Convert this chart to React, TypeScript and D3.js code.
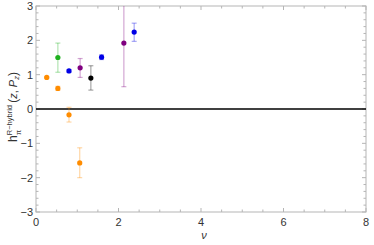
import React from "react";
import * as d3 from "d3";

const nuValues = [0.26, 0.53, 0.53, 0.8, 0.8, 1.07, 1.06, 1.33, 1.59, 2.13, 2.38];
const hValues = [0.92, 0.6, 1.5, -0.17, 1.11, 1.2, -1.57, 0.9, 1.51, 1.92, 2.24];
const hErrLow = [0.9, 0.54, 1.07, -0.38, 1.07, 0.92, -2.0, 0.55, 1.44, 0.65, 1.97];
const hErrHigh = [0.94, 0.66, 1.92, 0.05, 1.15, 1.47, -1.13, 1.26, 1.58, 3.2, 2.5];
const pointColors = ["#FF8C00", "#FF8C00", "#1FB11F", "#FF8C00", "#0000E6", "#800080", "#FF8C00", "#000000", "#0000E6", "#800080", "#0000E6"];

const xTicks = [0, 2, 4, 6, 8];
const yTicks = [-3, -2, -1, 0, 1, 2, 3];

export default function App() {
  const W = 374, H = 245;
  const L = 36, R = 366, T = 6, B = 212;
  const x = d3.scaleLinear().domain([0, 8]).range([L, R]);
  const y = d3.scaleLinear().domain([-3, 3]).range([B, T]);
  const frame = "#b5b5b5";
  const font = "'Liberation Sans', Arial, sans-serif";

  const xMinor = d3.range(0, 8.01, 0.5).filter((v) => !xTicks.includes(v));
  const yMinor = d3.range(-3, 3.01, 0.2).map((v) => Math.round(v * 10) / 10).filter((v) => !yTicks.includes(v));

  return (
    <svg width={W} height={H} style={{ position: "absolute", left: 0, top: 0 }}>
      <rect x={0} y={0} width={W} height={H} fill="white" />
      <defs>
        <clipPath id="plot">
          <rect x={L} y={T} width={R - L} height={B - T} />
        </clipPath>
      </defs>
      <rect x={L} y={T} width={R - L} height={B - T} fill="none" stroke={frame} strokeWidth={1} />
      {xTicks.map((t) => (
        <g key={"xt" + t}>
          <line x1={x(t)} x2={x(t)} y1={B} y2={B - 4} stroke={frame} />
          <line x1={x(t)} x2={x(t)} y1={T} y2={T + 4} stroke={frame} />
          <text x={x(t)} y={B + 14} textAnchor="middle" fontSize={11} fontFamily={font} fill="#333">{t}</text>
        </g>
      ))}
      {xMinor.map((t) => (
        <g key={"xm" + t}>
          <line x1={x(t)} x2={x(t)} y1={B} y2={B - 2.5} stroke={frame} />
          <line x1={x(t)} x2={x(t)} y1={T} y2={T + 2.5} stroke={frame} />
        </g>
      ))}
      {yTicks.map((t) => (
        <g key={"yt" + t}>
          <line x1={L} x2={L + 4} y1={y(t)} y2={y(t)} stroke={frame} />
          <line x1={R} x2={R - 4} y1={y(t)} y2={y(t)} stroke={frame} />
          <text x={L - 3} y={y(t) + 4} textAnchor="end" fontSize={11} fontFamily={font} fill="#333">{t < 0 ? "\u2212" + Math.abs(t) : t}</text>
        </g>
      ))}
      {yMinor.map((t) => (
        <g key={"ym" + t}>
          <line x1={L} x2={L + 2.5} y1={y(t)} y2={y(t)} stroke={frame} />
          <line x1={R} x2={R - 2.5} y1={y(t)} y2={y(t)} stroke={frame} />
        </g>
      ))}
      <line x1={L} x2={R} y1={y(0)} y2={y(0)} stroke="black" strokeWidth={1.5} />
      <g clipPath="url(#plot)">
        {nuValues.map((v, i) => (
          <g key={"p" + i}>
            <g stroke={pointColors[i]} strokeOpacity={0.35} strokeWidth={1.2}>
              <line x1={x(v)} x2={x(v)} y1={y(hErrLow[i])} y2={y(hErrHigh[i])} />
              <line x1={x(v) - 2.5} x2={x(v) + 2.5} y1={y(hErrLow[i])} y2={y(hErrLow[i])} />
              <line x1={x(v) - 2.5} x2={x(v) + 2.5} y1={y(hErrHigh[i])} y2={y(hErrHigh[i])} />
            </g>
            <circle cx={x(v)} cy={y(hValues[i])} r={2.6} fill={pointColors[i]} />
          </g>
        ))}
      </g>
      <text x={204} y={239} textAnchor="middle" fontSize={11} fontStyle="italic" fontFamily={font} fill="#333">ν</text>
      <g transform="translate(17,107) rotate(-90)">
        <text textAnchor="middle" fontFamily={font} fill="#333" fontSize={11}>
          <tspan fontSize={12}>h</tspan>
          <tspan fontSize={7.5} dy={-5}>R−hybrid</tspan>
          <tspan fontSize={7.5} dx={-30} dy={9}>π</tspan>
          <tspan fontSize={12} dx={27} dy={-4}>(</tspan>
          <tspan fontStyle="italic">z</tspan>
          <tspan>, </tspan>
          <tspan fontStyle="italic">P</tspan>
          <tspan fontSize={7.5} fontStyle="italic" dy={2}>z</tspan>
          <tspan fontSize={12} dy={-2}>)</tspan>
        </text>
      </g>
    </svg>
  );
}
